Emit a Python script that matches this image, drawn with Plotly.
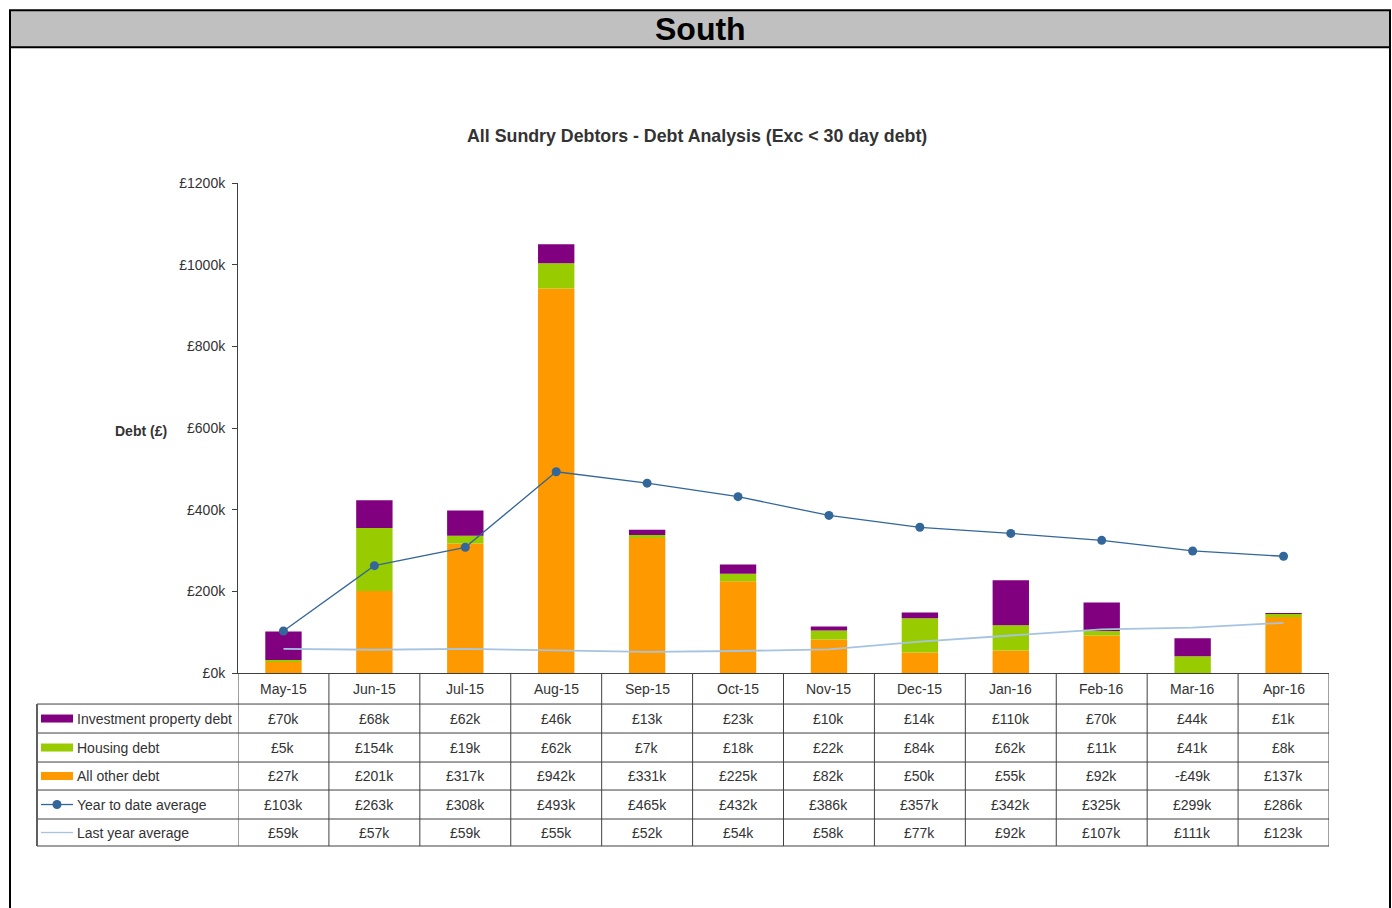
import plotly.graph_objects as go

# ---- data (values in £k) ----
months = ["May-15", "Jun-15", "Jul-15", "Aug-15", "Sep-15", "Oct-15",
          "Nov-15", "Dec-15", "Jan-16", "Feb-16", "Mar-16", "Apr-16"]
investment_property = [70, 68, 62, 46, 13, 23, 10, 14, 110, 70, 44, 1]
housing = [5, 154, 19, 62, 7, 18, 22, 84, 62, 11, 41, 8]
all_other = [27, 201, 317, 942, 331, 225, 82, 50, 55, 92, -49, 137]
ytd_average = [103, 263, 308, 493, 465, 432, 386, 357, 342, 325, 299, 286]
last_year_average = [59, 57, 59, 55, 52, 54, 58, 77, 92, 107, 111, 123]
y_ticks = [0, 200, 400, 600, 800, 1000, 1200]

# layout grid is laid out on a 1392x908 sheet; the figure itself sits
# below the 8px body margin, so vertical positions are converted
SHEET_H = 908
PAGE_H = 924
TOP = 8
W, H = 1392, PAGE_H - TOP
FONT = "Liberation Sans Narrow, Arial Narrow, Liberation Sans, Arial, sans-serif"
TXT = "#333333"
GRID = "#404040"

C_INV = "#800080"
C_HOU = "#99CC00"
C_OTH = "#FF9900"
C_YTD = "#336699"
C_LY = "#A6C4E2"


def px_x(p):
    return p / W


def px_y(p):
    fy = p * PAGE_H / SHEET_H - TOP
    return 1 - fy / H


def money(v):
    return ("-£%dk" % abs(v)) if v < 0 else ("£%dk" % v)


plot_left, plot_right = 238, 1329
plot_top, plot_bottom = 183, 673

fig = go.Figure()
fig.add_trace(go.Bar(x=months, y=all_other, name="All other debt",
                     marker=dict(color=C_OTH, line=dict(width=0))))
fig.add_trace(go.Bar(x=months, y=housing, name="Housing debt",
                     marker=dict(color=C_HOU, line=dict(width=0))))
fig.add_trace(go.Bar(x=months, y=investment_property, name="Investment property debt",
                     marker=dict(color=C_INV, line=dict(width=0))))
fig.add_trace(go.Scatter(x=months, y=last_year_average, mode="lines",
                         name="Last year average",
                         line=dict(color=C_LY, width=1.8)))
fig.add_trace(go.Scatter(x=months, y=ytd_average, mode="lines+markers",
                         name="Year to date average",
                         line=dict(color=C_YTD, width=1.3),
                         marker=dict(color=C_YTD, size=9)))

shapes = []
annotations = []

# outer frame and header band
shapes.append(dict(type="rect", xref="paper", yref="paper",
                   x0=px_x(10), x1=px_x(1390), y0=px_y(47), y1=px_y(10),
                   fillcolor="#C0C0C0", line=dict(color="black", width=2), layer="below"))
shapes.append(dict(type="line", xref="paper", yref="paper",
                   x0=px_x(10), x1=px_x(10), y0=px_y(47), y1=-0.02,
                   line=dict(color="black", width=2)))
shapes.append(dict(type="line", xref="paper", yref="paper",
                   x0=px_x(1390), x1=px_x(1390), y0=px_y(47), y1=-0.02,
                   line=dict(color="black", width=2)))
annotations.append(dict(text="<b>South</b>", xref="paper", yref="paper",
                        x=px_x(700), y=px_y(29), showarrow=False,
                        font=dict(family=FONT, size=32, color="black"),
                        xanchor="center", yanchor="middle"))

# chart title and axis label
annotations.append(dict(text="<b>All Sundry Debtors - Debt Analysis (Exc < 30 day debt)</b>",
                        xref="paper", yref="paper", x=px_x(697), y=px_y(136),
                        showarrow=False, font=dict(family=FONT, size=17.8, color=TXT),
                        xanchor="center", yanchor="middle"))
annotations.append(dict(text="<b>Debt (£)</b>", xref="paper", yref="paper",
                        x=px_x(141), y=px_y(431), showarrow=False,
                        font=dict(family=FONT, size=14, color=TXT),
                        xanchor="center", yanchor="middle"))

# ---- data table beneath the plot ----
table_left = 37
row_edges = [673, 704, 733, 762, 790, 819, 846]
line_style = dict(color=GRID, width=1)

for yy in row_edges[1:]:
    shapes.append(dict(type="line", xref="paper", yref="paper",
                       x0=px_x(table_left), x1=px_x(plot_right),
                       y0=px_y(yy), y1=px_y(yy), line=line_style))
shapes.append(dict(type="line", xref="paper", yref="paper",
                   x0=px_x(table_left), x1=px_x(table_left),
                   y0=px_y(row_edges[1]), y1=px_y(row_edges[-1]),
                   line=dict(color="#606060", width=2)))
for k in range(len(months) + 1):
    shapes.append(dict(type="line", xref="x", yref="paper",
                       x0=k - 0.5, x1=k - 0.5,
                       y0=px_y(row_edges[0]), y1=px_y(row_edges[-1]),
                       line=line_style))

# month header row
for k, m in enumerate(months):
    annotations.append(dict(text=m, xref="x", yref="paper", x=k,
                            y=px_y((row_edges[0] + row_edges[1]) / 2),
                            showarrow=False, xanchor="center", yanchor="middle",
                            font=dict(family=FONT, size=14, color=TXT)))

rows = [
    ("Investment property debt", investment_property, "bar", C_INV),
    ("Housing debt", housing, "bar", C_HOU),
    ("All other debt", all_other, "bar", C_OTH),
    ("Year to date average", ytd_average, "marker", C_YTD),
    ("Last year average", last_year_average, "line", C_LY),
]
for r, (label, vals, key, col) in enumerate(rows):
    y0, y1 = row_edges[r + 1], row_edges[r + 2]
    yc = (y0 + y1) / 2
    if key == "bar":
        shapes.append(dict(type="rect", xref="paper", yref="paper",
                           x0=px_x(41), x1=px_x(73), y0=px_y(yc + 4), y1=px_y(yc - 4),
                           fillcolor=col, line=dict(width=0)))
    else:
        shapes.append(dict(type="line", xref="paper", yref="paper",
                           x0=px_x(41), x1=px_x(73), y0=px_y(yc), y1=px_y(yc),
                           line=dict(color=col, width=1.3)))
        if key == "marker":
            shapes.append(dict(type="circle", xref="paper", yref="paper",
                               x0=px_x(52.5), x1=px_x(61.5),
                               y0=px_y(yc + 4.5), y1=px_y(yc - 4.5),
                               fillcolor=col, line=dict(width=0)))
    annotations.append(dict(text=label, xref="paper", yref="paper",
                            x=px_x(75), y=px_y(yc), showarrow=False,
                            xanchor="left", yanchor="middle",
                            font=dict(family=FONT, size=14, color=TXT)))
    for k, v in enumerate(vals):
        annotations.append(dict(text=money(v), xref="x", yref="paper", x=k,
                                y=px_y(yc), showarrow=False,
                                xanchor="center", yanchor="middle",
                                font=dict(family=FONT, size=14, color=TXT)))

fig.update_layout(
    width=W, height=H,
    margin=dict(l=0, r=0, t=0, b=0),
    paper_bgcolor="white", plot_bgcolor="white",
    barmode="relative", bargap=0.6,
    showlegend=False,
    font=dict(family=FONT, size=14, color=TXT),
    shapes=shapes, annotations=annotations,
    xaxis=dict(domain=[px_x(plot_left), px_x(plot_right)],
               range=[-0.5, len(months) - 0.5],
               showticklabels=False, ticks="", showgrid=False,
               showline=True, linecolor=GRID, linewidth=1, zeroline=False),
    yaxis=dict(domain=[px_y(plot_bottom), px_y(plot_top)],
               range=[0, 1200], tickvals=y_ticks,
               ticktext=[money(v) for v in y_ticks],
               ticks="outside", ticklen=5, tickcolor=GRID,
               ticklabelstandoff=4,
               showgrid=False, zeroline=False,
               showline=True, linecolor=GRID, linewidth=1,
               tickfont=dict(family=FONT, size=14, color=TXT)),
)

fig.write_html("out.html")
